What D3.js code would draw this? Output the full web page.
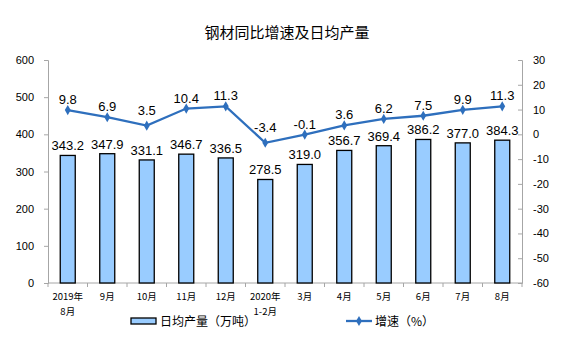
<!DOCTYPE html>
<html><head><meta charset="utf-8">
<script src="https://cdn.jsdelivr.net/npm/d3@7"></script>
<style>body{margin:0;background:#fff;} svg{display:block;}</style>
</head><body>
<svg id="c" width="575" height="338"></svg>
<script>
const categories = [["2019年","8月"],["9月"],["10月"],["11月"],["12月"],["2020年","1-2月"],["3月"],["4月"],["5月"],["6月"],["7月"],["8月"]];
const output = [343.2,347.9,331.1,346.7,336.5,278.5,319.0,356.7,369.4,386.2,377.0,384.3];
const growth = [9.8,6.9,3.5,10.4,11.3,-3.4,-0.1,3.6,6.2,7.5,9.9,11.3];
const leftTicks = [0,100,200,300,400,500,600];
const rightTicks = [30,20,10,0,-10,-20,-30,-40,-50,-60];
const title = "钢材同比增速及日均产量";
const legendBar = "日均产量（万吨）";
const legendLine = "增速（%）";

const svg = d3.select("#c");
const font = "Liberation Sans, Arial, sans-serif";
const cjk = "Noto Sans CJK SC, sans-serif";
const L = 48, R = 522, T = 60, B = 283;
const x = d3.scaleBand().domain(d3.range(categories.length)).range([L, R]).paddingInner(0).paddingOuter(0);
const yL = d3.scaleLinear().domain([0, 600]).range([B, T]);
const yR = d3.scaleLinear().domain([-60, 30]).range([B, T]);
const axisColor = "#a6a6a6";
const cx = i => x(i) + x.bandwidth() / 2;

svg.append("text").attr("x", 287).attr("y", 38).attr("text-anchor", "middle")
  .attr("font-family", cjk).attr("font-size", 15).attr("fill", "#000").text(title);

// left axis
const gl = svg.append("g").attr("transform", `translate(${L},0)`)
  .call(d3.axisLeft(yL).tickValues(leftTicks).tickSize(4).tickPadding(10).tickFormat(d => String(d)));
gl.select(".domain").attr("stroke", axisColor);
gl.selectAll(".tick line").attr("stroke", axisColor);
gl.selectAll(".tick text").attr("font-family", font).attr("font-size", 11).attr("fill", "#000");

// right axis
const gr = svg.append("g").attr("transform", `translate(${R},0)`)
  .call(d3.axisRight(yR).tickValues(rightTicks).tickSize(-4).tickPadding(11).tickFormat(d => String(d)));
gr.select(".domain").attr("stroke", axisColor);
gr.selectAll(".tick line").attr("stroke", axisColor);
gr.selectAll(".tick text").attr("font-family", font).attr("font-size", 11).attr("fill", "#000");

// bottom axis
svg.append("line").attr("x1", L).attr("x2", R).attr("y1", B).attr("y2", B).attr("stroke", axisColor);
d3.range(categories.length + 1).forEach(i => {
  const xx = i < categories.length ? x(i) : R;
  svg.append("line").attr("x1", xx).attr("x2", xx).attr("y1", B).attr("y2", B + 4).attr("stroke", axisColor);
});
const xl = svg.append("g");
categories.forEach((c, i) => {
  c.forEach((s, k) => xl.append("text").attr("x", cx(i)).attr("y", 300 + k * 14.5)
    .attr("text-anchor", "middle").attr("font-family", cjk).attr("font-size", 9.5).attr("fill", "#000").text(s));
});

// bars
const bw = 15;
svg.append("g").selectAll("rect").data(output).join("rect")
  .attr("x", (d, i) => cx(i) - bw / 2)
  .attr("y", d => yL(d)).attr("width", bw).attr("height", d => B - yL(d))
  .attr("fill", "#99ccff").attr("stroke", "#000").attr("stroke-width", 1.3);
svg.append("g").selectAll("text").data(output).join("text")
  .attr("x", (d, i) => cx(i)).attr("y", d => yL(d) - 5)
  .attr("text-anchor", "middle").attr("font-family", font).attr("font-size", 13).attr("fill", "#000")
  .text(d => d.toFixed(1));

// line
const lineColor = "#2e6fbd";
const line = d3.line().x((d, i) => cx(i)).y(d => yR(d));
svg.append("path").datum(growth).attr("d", line).attr("fill", "none").attr("stroke", lineColor).attr("stroke-width", 2.3);
svg.append("g").selectAll("path").data(growth).join("path")
  .attr("transform", (d, i) => `translate(${cx(i)},${yR(d)})`)
  .attr("d", d3.symbol(d3.symbolDiamond, 30)).attr("fill", lineColor);
const isValley = i => i > 0 && i < growth.length - 1 && growth[i - 1] > growth[i] && growth[i + 1] > growth[i];
svg.append("g").selectAll("text").data(growth).join("text")
  .attr("x", (d, i) => cx(i)).attr("y", (d, i) => yR(d) - (isValley(i) ? 11 : 6))
  .attr("text-anchor", "middle").attr("font-family", font).attr("font-size", 13).attr("fill", "#000")
  .text(d => d.toFixed(1));

// legend
svg.append("rect").attr("x", 131).attr("y", 318).attr("width", 25).attr("height", 6)
  .attr("fill", "#99ccff").attr("stroke", "#000").attr("stroke-width", 1.3);
svg.append("text").attr("x", 160).attr("y", 326).attr("font-family", cjk).attr("font-size", 12).attr("fill", "#000").text(legendBar);
svg.append("line").attr("x1", 346).attr("x2", 372).attr("y1", 321).attr("y2", 321).attr("stroke", lineColor).attr("stroke-width", 2.3);
svg.append("path").attr("transform", "translate(359,321)").attr("d", d3.symbol(d3.symbolDiamond, 30)).attr("fill", lineColor);
svg.append("text").attr("x", 375).attr("y", 326).attr("font-family", cjk).attr("font-size", 12).attr("fill", "#000").text(legendLine);
</script>
</body></html>
